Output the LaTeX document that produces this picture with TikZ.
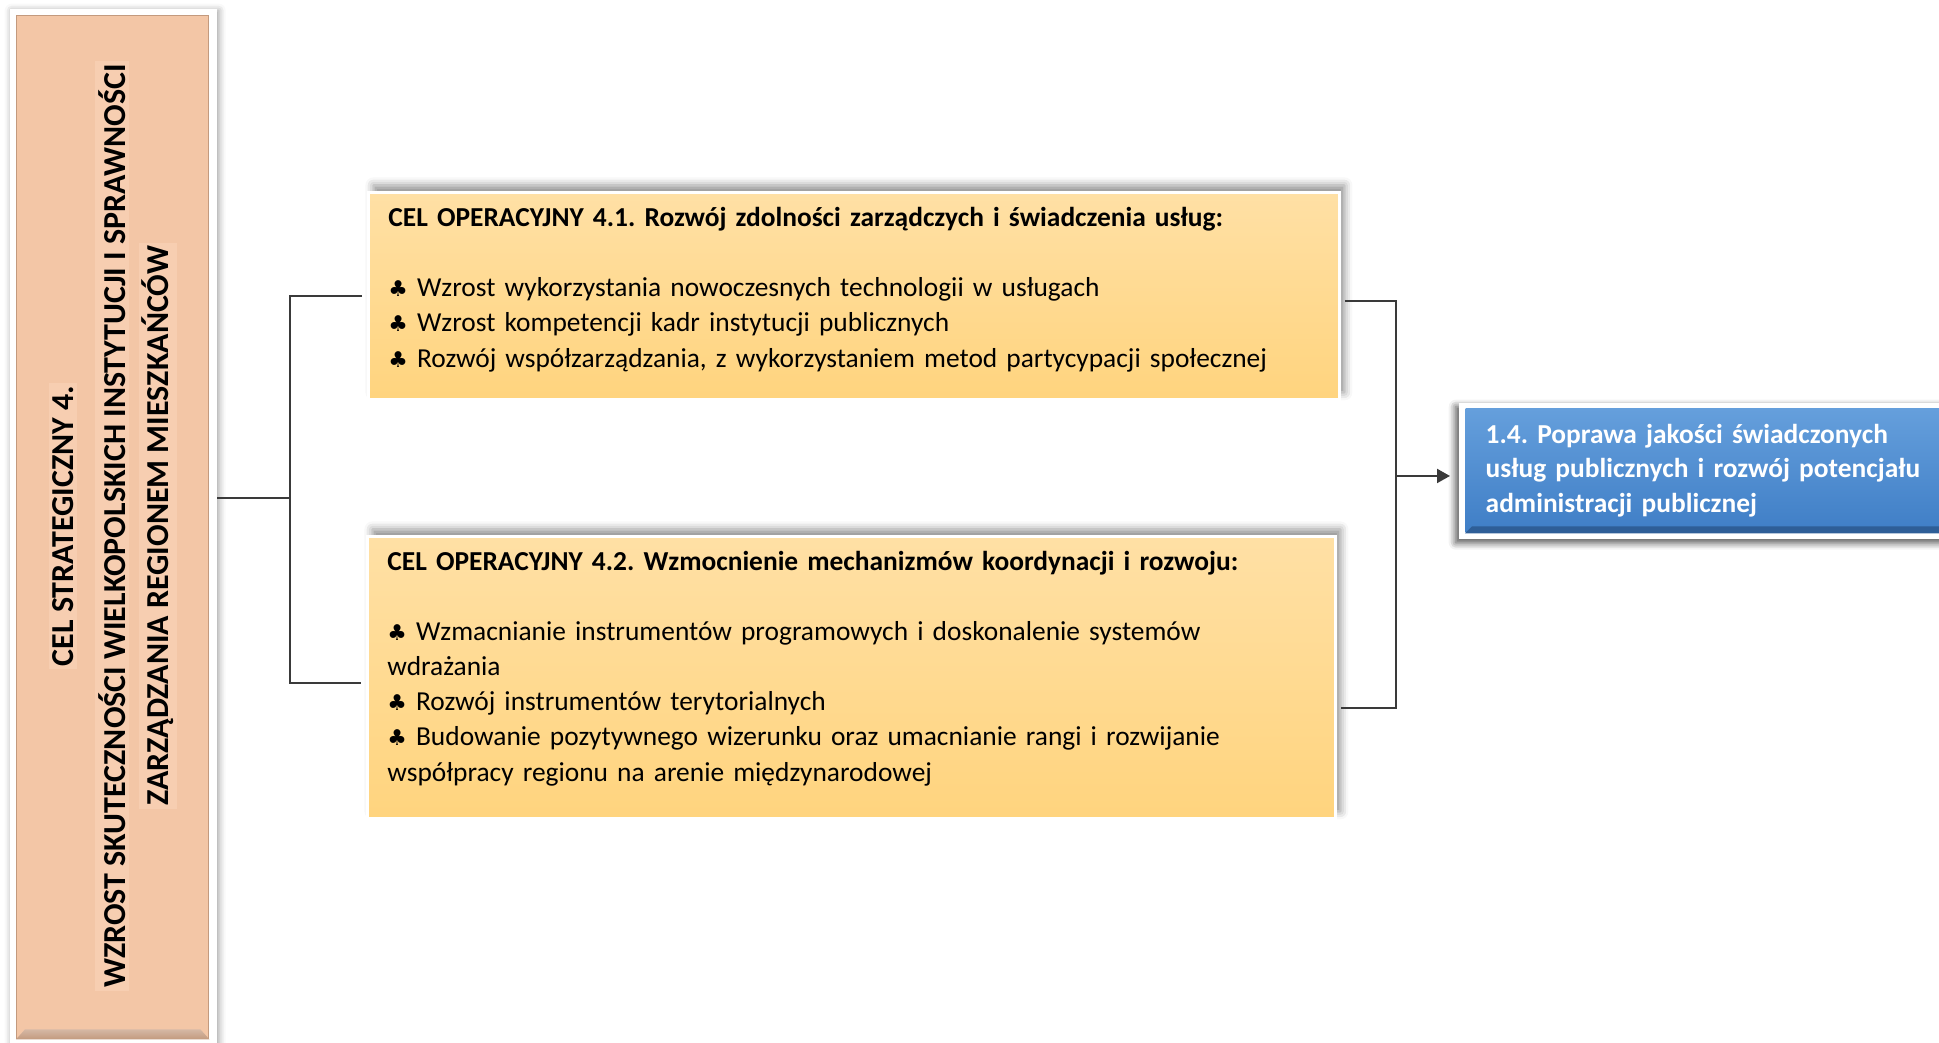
\documentclass[tikz,border=0pt]{standalone}
\usepackage{fontspec}
\setmainfont{Carlito}
\newfontfamily\symfont{DejaVu Sans}
\usepackage{tikz}
\usetikzlibrary{arrows.meta,calc,positioning,shadows.blur}
\definecolor{Peach}{HTML}{F3C6A6}
\definecolor{PalePeach}{HTML}{F7CEB1}
\definecolor{PeachEdge}{HTML}{C39A7E}
\definecolor{GoldTop}{HTML}{FFE0A5}
\definecolor{GoldBottom}{HTML}{FFD47E}
\definecolor{SkyTop}{HTML}{659FDC}
\definecolor{SkyBottom}{HTML}{3F7EC6}
\definecolor{SkyEdge}{HTML}{2E5E97}
\definecolor{Ink}{HTML}{3A3A3A}
\newcommand{\club}{{\symfont\fontsize{6.2}{6}\selectfont ♣}\ }
\frenchspacing

\begin{document}
\begin{tikzpicture}[
  link/.style={Ink,line width=0.6pt},
  whiteframe/.style={fill=white,inner sep=0pt,anchor=north west,
    blur shadow={shadow xshift=0.02cm,shadow yshift=-0.02cm,shadow blur radius=0.07cm,shadow opacity=40}},
  stratline/.style={rotate=90,fill=PalePeach,inner sep=0.03cm,font=\bfseries\fontsize{9.1}{10}\selectfont},
  opbox/.style={draw=white,line width=0.8pt,top color=GoldTop,bottom color=GoldBottom,
    anchor=north west,align=left,inner xsep=0.2cm,inner ysep=0.1cm,
    font=\fontsize{7.8}{10}\selectfont,
    blur shadow={shadow xshift=0.05cm,shadow yshift=0.07cm,shadow blur radius=0.08cm,shadow opacity=45}},
  goalbox/.style={top color=SkyTop,bottom color=SkyBottom,text=white,anchor=north west,
    align=left,inner xsep=0.17cm,font=\bfseries\fontsize{7.8}{9.9}\selectfont}
]
\useasboundingbox (0,0) rectangle (19.39,10.43);

% strategic goal (left column)
\node[whiteframe,minimum width=2.07cm,minimum height=10.5cm] (frame) at (0.09,10.35) {};
\node[fill=Peach,draw=PeachEdge,line width=0.4pt,inner sep=0pt,anchor=north west,
  minimum width=1.92cm,minimum height=10.23cm] (strat) at (0.16,10.28) {};
\shade[top color=PeachEdge!70,bottom color=PeachEdge] (strat.south west) -- (strat.south east)
  -- ++(-0.09,0.1) -- ($(strat.south west)+(0.09,0.1)$) -- cycle;
\node[stratline] (s1) at (0.63,5.17) {CEL STRATEGICZNY 4.};
\node[stratline] (s2) at (1.12,5.17) {WZROST SKUTECZNOŚCI WIELKOPOLSKICH INSTYTUCJI I SPRAWNOŚCI};
\node[stratline] (s3) at (1.58,5.17) {ZARZĄDZANIA REGIONEM MIESZKAŃCÓW};

% operational goals
\node[opbox,text width=9.31cm,minimum height=2.07cm] (op1) at (3.67,8.52)
  {\textbf{CEL OPERACYJNY 4.1. Rozwój zdolności zarządczych i świadczenia usług:}\\[10pt]
   \club Wzrost wykorzystania nowoczesnych technologii w usługach\\
   \club Wzrost kompetencji kadr instytucji publicznych\\
   \club Rozwój współzarządzania, z wykorzystaniem metod partycypacji społecznej\\[-5pt]\mbox{}};
\node[opbox,text width=9.28cm,minimum height=2.82cm] (op2) at (3.66,5.08)
  {\textbf{CEL OPERACYJNY 4.2. Wzmocnienie mechanizmów koordynacji i rozwoju:}\\[10pt]
   \club Wzmacnianie instrumentów programowych i doskonalenie systemów\\
   wdrażania\\
   \club Rozwój instrumentów terytorialnych\\
   \club Budowanie pozytywnego wizerunku oraz umacnianie rangi i rozwijanie\\
   współpracy regionu na arenie międzynarodowej\\[-3.5pt]\mbox{}};

% target goal
\node[whiteframe,minimum width=5.2cm,minimum height=1.36cm,
  blur shadow={shadow xshift=-0.03cm,shadow yshift=-0.04cm,shadow blur radius=0.07cm,shadow opacity=40}]
  (goalframe) at (14.58,6.41) {};
\node[goalbox,text width=4.7cm,minimum width=5.1cm,minimum height=1.24cm] (goal) at (14.65,6.35)
  {1.4. Poprawa jakości świadczonych\\
   usług publicznych i rozwój potencjału\\
   administracji publicznej};
\fill[SkyEdge] (goal.south west) -- (goal.south east) -- ++(0,0.07)
  -- ($(goal.south west)+(0.07,0.07)$) -- cycle;

% connectors
\coordinate (lj) at (2.90,5.45);
\coordinate (rj) at (13.96,5.67);
\draw[link] (lj -| frame.east) -- (lj);
\draw[link,shorten <=0.05cm,shorten >=0.05cm] (op1.west) -| (lj) |- ([yshift=-0.06cm]op2.west);
\draw[link,shorten <=0.04cm,shorten >=0.04cm] ([yshift=-0.05cm]op1.east) -| (rj) |- ([yshift=-0.31cm]op2.east);
\draw[link,-{Triangle[length=0.13cm,width=0.14cm]},shorten >=0.15cm] (rj) -- (goal.west |- rj);
\end{tikzpicture}
\end{document}
